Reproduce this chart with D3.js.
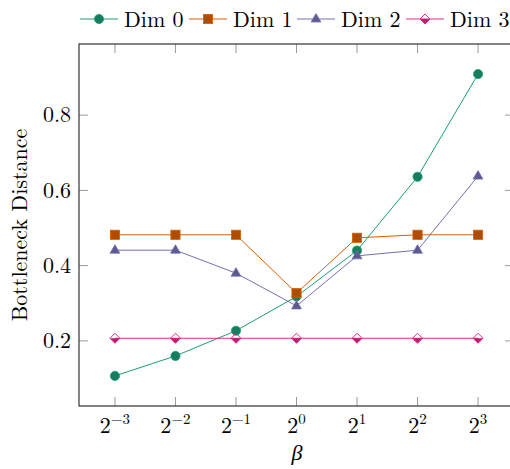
<!DOCTYPE html>
<html>
<head>
<meta charset="utf-8">
<script src="https://cdn.jsdelivr.net/npm/d3@7"></script>
</head>
<body style="margin:0; background:#fff">
<svg id="chart"></svg>
<script>
// x positions are powers of two, stored as exponents
const exponents = [-3, -2, -1, 0, 1, 2, 3];
const seriesNames = ["Dim 0", "Dim 1", "Dim 2", "Dim 3"];
const dim0 = [0.107, 0.160, 0.227, 0.318, 0.440, 0.636, 0.909];
const dim1 = [0.482, 0.482, 0.482, 0.327, 0.474, 0.482, 0.482];
const dim2 = [0.441, 0.441, 0.380, 0.293, 0.426, 0.441, 0.638];
const dim3 = [0.207, 0.207, 0.207, 0.207, 0.207, 0.207, 0.207];
const yTicks = [0.2, 0.4, 0.6, 0.8];

const colors = ["#1b9e77", "#d95f02", "#7570b3", "#e7298a"];
const markers = ["circle", "square", "triangle", "halfdiamond"];

const width = 510, height = 469;
const margin = { top: 44, right: -4, bottom: 63, left: 79 };

const svg = d3.select("#chart")
    .attr("width", width)
    .attr("height", height)
    .attr("viewBox", [0, 0, width, height])
    .attr("font-family", "'Latin Modern Roman', 'CMU Serif', 'Liberation Serif', serif")
    .style("display", "block");

const x = d3.scaleLinear().domain([-3.594, 3.594]).range([margin.left, width - margin.right]);
const y = d3.scaleLinear().domain([0.027, 0.989]).range([height - margin.bottom, margin.top]);

const x0 = x.range()[0], x1 = x.range()[1];
const y0 = y.range()[0], y1 = y.range()[1];
const tickLen = 9;

// 刻度线（四边向内）
const ticks = svg.append("g").attr("stroke", "#9a9a9a").attr("stroke-width", 1);
exponents.forEach(e => {
    ticks.append("line").attr("x1", x(e)).attr("x2", x(e)).attr("y1", y0).attr("y2", y0 - tickLen);
    ticks.append("line").attr("x1", x(e)).attr("x2", x(e)).attr("y1", y1).attr("y2", y1 + tickLen);
});
yTicks.forEach(v => {
    ticks.append("line").attr("x1", x0).attr("x2", x0 + tickLen).attr("y1", y(v)).attr("y2", y(v));
    ticks.append("line").attr("x1", x1).attr("x2", x1 - tickLen).attr("y1", y(v)).attr("y2", y(v));
});

// 坐标框
svg.append("rect")
    .attr("x", x0).attr("y", y1)
    .attr("width", x1 - x0).attr("height", y0 - y1)
    .attr("fill", "none").attr("stroke", "#333").attr("stroke-width", 1.2);

// y 轴标签
svg.append("g").selectAll("text").data(yTicks).join("text")
    .attr("x", x0 - 8).attr("y", d => y(d))
    .attr("dy", "0.33em")
    .attr("text-anchor", "end")
    .attr("font-size", 22)
    .text(d => d.toFixed(1));

// x 轴标签 2^n
const xl = svg.append("g").selectAll("text").data(exponents).join("text")
    .attr("x", d => x(d)).attr("y", 433)
    .attr("text-anchor", "middle")
    .attr("font-size", 22);
xl.append("tspan").text("2");
xl.append("tspan").attr("font-size", 15).attr("dy", -9)
    .text(d => d < 0 ? "\u2212" + (-d) : String(d));

svg.append("text")
    .attr("x", 297).attr("y", 460)
    .attr("text-anchor", "middle")
    .attr("font-size", 22).attr("font-style", "italic")
    .text("β");

svg.append("text")
    .attr("transform", `translate(27,${(y0 + y1) / 2}) rotate(-90)`)
    .attr("text-anchor", "middle")
    .attr("font-size", 22)
    .text("Bottleneck Distance");

// 数据线与标记
const all = [dim0, dim1, dim2, dim3];
const line = d3.line().x(d => x(d.e)).y(d => y(d.v));
const darker = c => d3.interpolateRgb(c, "#000")(0.2);

function drawMarker(g, type, color) {
    if (type === "circle") {
        g.append("circle").attr("r", 4.6).attr("fill", darker(color)).attr("stroke", color).attr("stroke-width", 0.8);
    } else if (type === "square") {
        g.append("rect").attr("x", -4.6).attr("y", -4.6).attr("width", 9.2).attr("height", 9.2)
            .attr("fill", darker(color)).attr("stroke", color).attr("stroke-width", 0.8);
    } else if (type === "triangle") {
        g.append("path").attr("d", "M0,-5.5L4.9,3L-4.9,3Z")
            .attr("fill", darker(color)).attr("stroke", color).attr("stroke-width", 0.8);
    } else {
        g.append("path").attr("d", "M-5,0L5,0L0,5Z").attr("fill", darker(color));
        g.append("path").attr("d", "M0,-5L5,0L0,5L-5,0Z")
            .attr("fill", "none").attr("stroke", color).attr("stroke-width", 1);
    }
}

const plot = svg.append("g");
all.forEach((vals, i) => {
    const pts = exponents.map((e, j) => ({ e, v: vals[j] }));
    plot.append("path")
        .attr("fill", "none")
        .attr("stroke", colors[i])
        .attr("stroke-width", 1)
        .attr("d", line(pts));
});
all.forEach((vals, i) => {
    exponents.forEach((e, j) => {
        const g = plot.append("g").attr("transform", `translate(${x(e)},${y(vals[j])})`);
        drawMarker(g, markers[i], colors[i]);
    });
});

// 图例
const legendStarts = [80, 189, 297, 406];
seriesNames.forEach((name, i) => {
    const g = svg.append("g").attr("transform", `translate(${legendStarts[i]},19)`);
    g.append("line").attr("x1", 0).attr("x2", 38).attr("y1", 0).attr("y2", 0)
        .attr("stroke", colors[i]).attr("stroke-width", 1);
    const m = g.append("g").attr("transform", "translate(19,0)");
    drawMarker(m, markers[i], colors[i]);
    g.append("text").attr("x", 44).attr("y", 0).attr("dy", "0.35em")
        .attr("font-size", 22).text(name);
});
</script>
</body>
</html>
